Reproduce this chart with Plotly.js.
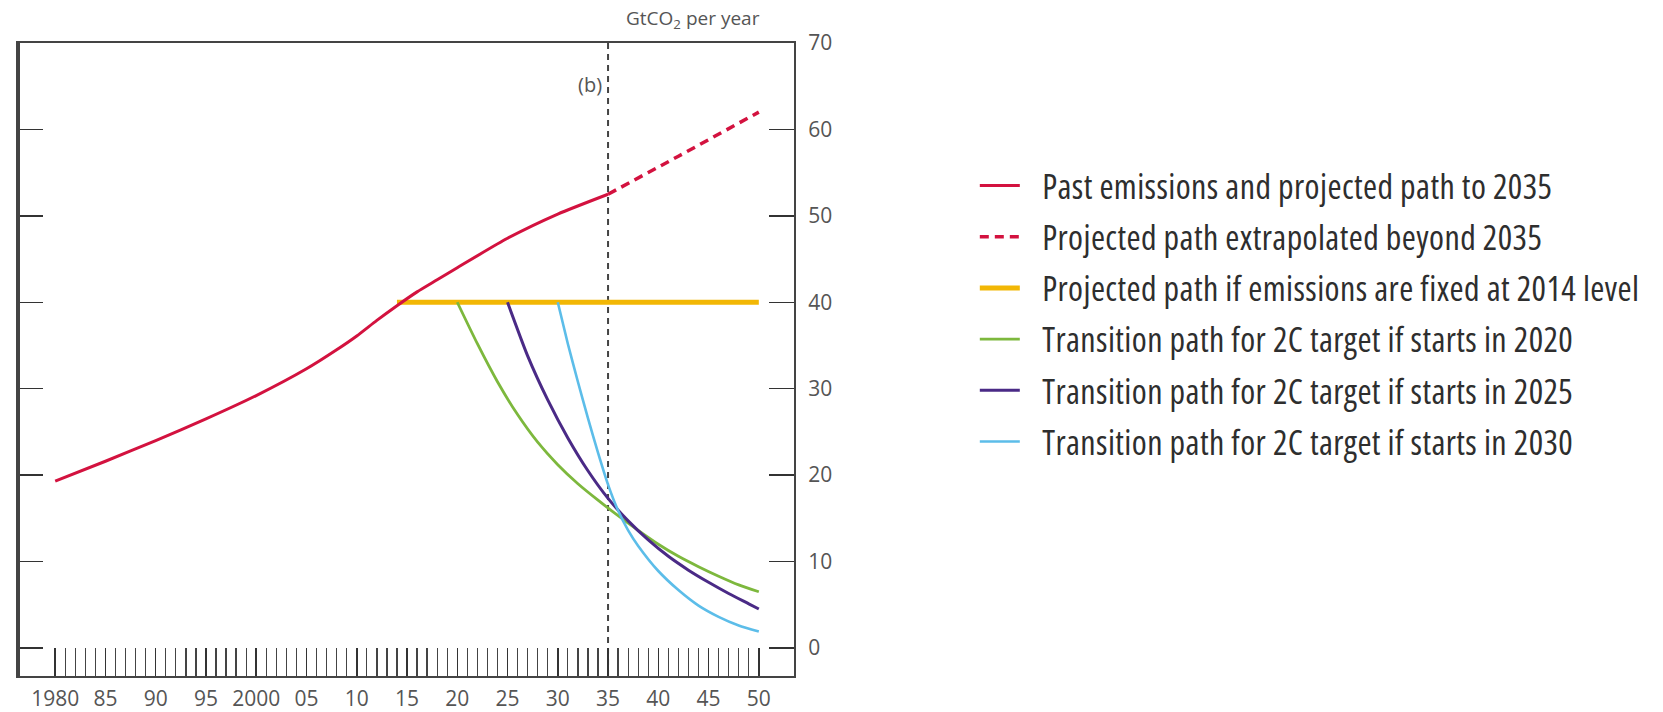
<!DOCTYPE html>
<html>
<head>
<meta charset="utf-8">
<script src="https://cdn.plot.ly/plotly-3.0.1.min.js"></script>
<style>
html,body{margin:0;padding:0;background:#fff;}
#chart{width:1663px;height:712px;}
.legendtext{font-stretch:75% !important;letter-spacing:0.4px;}
</style>
</head>
<body>
<div id="chart"></div>
<script>
// ---- data ----
const redYears   = [1980, 1985, 1990, 1995, 2000, 2005, 2008, 2010, 2012, 2014, 2016, 2018, 2020, 2025, 2030, 2035];
const redValues  = [19.3, 21.6, 24.0, 26.5, 29.2, 32.3, 34.5, 36.1, 37.9, 39.6, 41.2, 42.6, 44.0, 47.4, 50.2, 52.5];

const extYears   = [2035, 2042, 2050];
const extValues  = [52.5, 56.9, 62.0];

const fixedYears  = [2014, 2050];
const fixedValues = [40, 40];

const g2020Years  = [2020, 2022, 2024, 2026, 2028, 2030, 2032, 2034, 2036, 2038, 2040, 2042, 2044, 2046, 2048, 2050];
const g2020Values = [40.0, 35.2, 30.8, 27.0, 23.8, 21.2, 19.0, 17.1, 15.3, 13.6, 12.0, 10.6, 9.4, 8.3, 7.3, 6.5];

const p2025Years  = [2025, 2027, 2029, 2031, 2033, 2035, 2037, 2039, 2041, 2043, 2045, 2047, 2049, 2050];
const p2025Values = [40.0, 33.8, 28.7, 24.3, 20.5, 17.3, 14.7, 12.5, 10.6, 9.0, 7.6, 6.3, 5.1, 4.5];

const b2030Years  = [2030, 2031, 2032, 2033, 2034, 2035, 2036, 2037, 2038, 2040, 2042, 2044, 2046, 2048, 2050];
const b2030Values = [40.0, 35.2, 30.8, 26.6, 22.6, 18.9, 15.9, 13.6, 11.8, 8.9, 6.7, 4.9, 3.6, 2.6, 1.9];

const seriesNames = [
  'Past emissions and projected path to 2035',
  'Projected path extrapolated beyond 2035',
  'Projected path if emissions are fixed at 2014 level',
  'Transition path for 2C target if starts in 2020',
  'Transition path for 2C target if starts in 2025',
  'Transition path for 2C target if starts in 2030'
];

const xTickVals  = [1980, 1985, 1990, 1995, 2000, 2005, 2010, 2015, 2020, 2025, 2030, 2035, 2040, 2045, 2050];
const xTickText  = ['1980', '85', '90', '95', '2000', '05', '10', '15', '20', '25', '30', '35', '40', '45', '50'];
const yTickVals  = [0, 10, 20, 30, 40, 50, 60, 70];
const minorYears = [];
for (let y = 1980; y <= 2050; y++) minorYears.push(y);

const markerYear = 2035;
const unitLabel  = 'GtCO<sub>2</sub> per year';
const panelLabel = '(b)';

// ---- styling ----
const cRed = '#d3123f', cYellow = '#f2b705', cGreen = '#7db83d', cPurple = '#4a2a86', cBlue = '#5cbde9';
const axisColor = '#444';
const tickFont = {family: 'Open Sans, Liberation Sans, sans-serif', size: 21, color: '#555'};
const legFont = {family: 'Open Sans, sans-serif', size: 34, color: '#2e2e2e'};
const legendPad = '\u2002';

const mk = (x, y, name, color, width, dash, rank) => ({
  type: 'scatter', mode: 'lines', x: x, y: y, name: legendPad + name,
  line: {color: color, width: width, dash: dash || 'solid', shape: 'spline', smoothing: 0.6},
  legendgroup: 'g' + rank, legendrank: rank, hoverinfo: 'x+y'
});

const traces = [
  mk(fixedYears, fixedValues, seriesNames[2], cYellow, 5, null, 3),
  mk(redYears, redValues, seriesNames[0], cRed, 3, null, 1),
  mk(extYears, extValues, seriesNames[1], cRed, 3.5, '9px,6px', 2),
  mk(g2020Years, g2020Values, seriesNames[3], cGreen, 2.8, null, 4),
  mk(p2025Years, p2025Values, seriesNames[4], cPurple, 3, null, 5),
  mk(b2030Years, b2030Values, seriesNames[5], cBlue, 2.6, null, 6)
];

const layout = {
  width: 1663, height: 712,
  margin: {l: 18, r: 869, t: 43, b: 36},
  paper_bgcolor: '#fff', plot_bgcolor: '#fff',
  showlegend: true,
  legend: {
    x: 1.233, xanchor: 'left', y: 0.82, yanchor: 'top',
    font: legFont, traceorder: 'grouped', tracegroupgap: 4,
    bgcolor: 'rgba(0,0,0,0)', itemwidth: 40
  },
  xaxis: {
    range: [1976.3, 2053.5], showgrid: false, zeroline: false,
    showline: true, mirror: true, linecolor: axisColor, linewidth: 2,
    tickmode: 'array', tickvals: xTickVals, ticktext: xTickText,
    ticks: 'inside', ticklen: 28, tickwidth: 1.5, tickcolor: '#333',
    tickfont: tickFont, ticklabelstandoff: 3,
    minor: {tickmode: 'array', tickvals: minorYears, ticks: 'inside', ticklen: 28, tickwidth: 1.3, tickcolor: '#444'}
  },
  yaxis: {
    range: [-3.25, 70], side: 'right', showgrid: false, zeroline: false,
    showline: true, mirror: 'ticks', linecolor: axisColor, linewidth: 2,
    tickmode: 'array', tickvals: yTickVals,
    ticks: 'inside', ticklen: 25, tickwidth: 1.5, tickcolor: '#333',
    tickfont: tickFont, ticklabelstandoff: 8
  },
  shapes: [
    {type: 'line', xref: 'x', yref: 'paper', x0: markerYear, x1: markerYear, y0: 0, y1: 1,
     line: {color: '#444', width: 2, dash: '6px,5px'}, layer: 'below'},
    {type: 'line', xref: 'paper', yref: 'paper', x0: 0, x1: 0, y0: 0, y1: 1,
     line: {color: '#444', width: 4}}
  ],
  annotations: [
    {text: unitLabel, xref: 'paper', yref: 'paper', x: 1, y: 1, xanchor: 'right', yanchor: 'bottom',
     xshift: -32, yshift: 8, showarrow: false, font: {family: 'Open Sans, sans-serif', size: 19, color: '#555'}},
    {text: panelLabel, xref: 'x', yref: 'paper', x: markerYear, y: 0.935, xanchor: 'right', yanchor: 'middle',
     xshift: -4, showarrow: false, font: {family: 'Open Sans, sans-serif', size: 20, color: '#555'}}
  ]
};

Plotly.newPlot('chart', traces, layout, {staticPlot: true, displayModeBar: false});
</script>
</body>
</html>
